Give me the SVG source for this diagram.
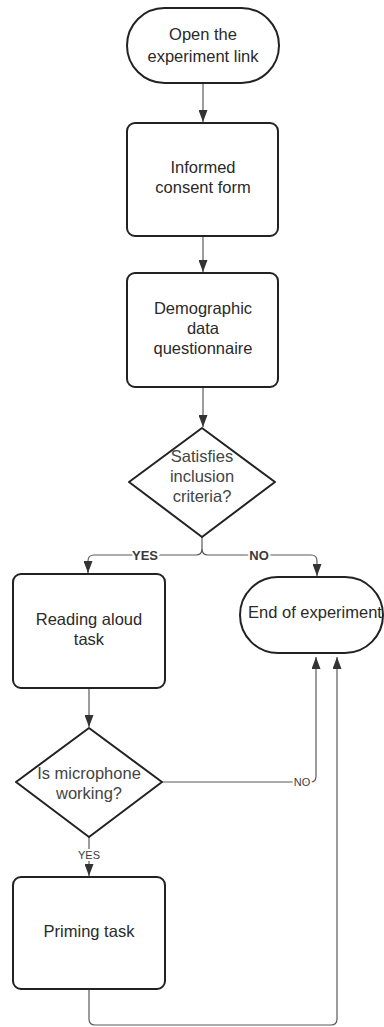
<svg xmlns="http://www.w3.org/2000/svg" width="384" height="1027" viewBox="0 0 384 1027">
<style>
.node{fill:#fff;stroke:#222;stroke-width:2}
.t{font-family:"Liberation Sans",Arial,sans-serif;font-size:16.5px;fill:#2a2a2a;text-anchor:middle}
.dt{fill:#444}
.c{fill:none;stroke:#5a5a5a;stroke-width:1.2}
.lb{font-family:"Liberation Sans",Arial,sans-serif;fill:#3a3a3a;text-anchor:middle;stroke:#fff;stroke-width:4;paint-order:stroke;dominant-baseline:central}
.lbb{font-size:13px;font-weight:bold}
.lbs{font-size:11px}
</style>
<defs>
<marker id="ah" markerUnits="userSpaceOnUse" markerWidth="12" markerHeight="9" refX="12" refY="4.5" orient="auto">
<path d="M0,0 L12,4.5 L0,9 z" fill="#333"/>
</marker>
</defs>
<g id="connectors">
<path class="c" d="M203,84 V122" marker-end="url(#ah)"/>
<path class="c" d="M203,237 V272" marker-end="url(#ah)"/>
<path class="c" d="M203,388 V427" marker-end="url(#ah)"/>
<path class="c" d="M202,537 V549 Q202,555 196,555 H94 Q88,555 88,561 V573" marker-end="url(#ah)"/>
<path class="c" d="M202,549 Q202,555 208,555 H311 Q317,555 317,561 V576" marker-end="url(#ah)"/>
<text class="lb lbb" x="145" y="555">YES</text>
<text class="lb lbb" x="259" y="555">NO</text>
<path class="c" d="M89,689 V727" marker-end="url(#ah)"/>
<path class="c" d="M162,782 H311 Q316,782 316,776 V657" marker-end="url(#ah)"/>
<text class="lb lbs" x="302" y="782">NO</text>
<path class="c" d="M89,837 V876" marker-end="url(#ah)"/>
<text class="lb lbs" x="89" y="855">YES</text>
<path class="c" d="M89,990 V1019 Q89,1025 95,1025 H331 Q337,1025 337,1019 V657" marker-end="url(#ah)"/>
</g>
<g id="start">
<rect class="node" x="127" y="8" width="152" height="75" rx="37.5"/>
<text class="t" x="203" y="40">Open the</text>
<text class="t" x="203" y="62">experiment link</text>
</g>
<g id="consent">
<rect class="node" x="127" y="123" width="151" height="113" rx="8"/>
<text class="t" x="203" y="173">Informed</text>
<text class="t" x="203" y="193">consent form</text>
</g>
<g id="demographic">
<rect class="node" x="127" y="273" width="151" height="114" rx="8"/>
<text class="t" x="203" y="314">Demographic</text>
<text class="t" x="203" y="334">data</text>
<text class="t" x="203" y="354">questionnaire</text>
</g>
<g id="inclusion">
<path class="node" d="M202,428 L275,482 L202,537 L129,482 Z" stroke-linejoin="round"/>
<text class="t dt" x="202" y="462">Satisfies</text>
<text class="t dt" x="202" y="482">inclusion</text>
<text class="t dt" x="202" y="502">criteria?</text>
</g>
<g id="reading">
<rect class="node" x="13" y="574" width="152" height="114" rx="8"/>
<text class="t" x="89" y="625">Reading aloud</text>
<text class="t" x="89" y="645">task</text>
</g>
<g id="end">
<rect class="node" x="240" y="577" width="143" height="76" rx="38"/>
<text class="t" x="315" y="618">End of experiment</text>
</g>
<g id="microphone">
<path class="node" d="M89,728 L162,782 L89,837 L16,782 Z" stroke-linejoin="round"/>
<text class="t dt" x="89" y="779">Is microphone</text>
<text class="t dt" x="89" y="799">working?</text>
</g>
<g id="priming">
<rect class="node" x="13" y="877" width="152" height="112" rx="8"/>
<text class="t" x="89" y="937">Priming task</text>
</g>
</svg>
